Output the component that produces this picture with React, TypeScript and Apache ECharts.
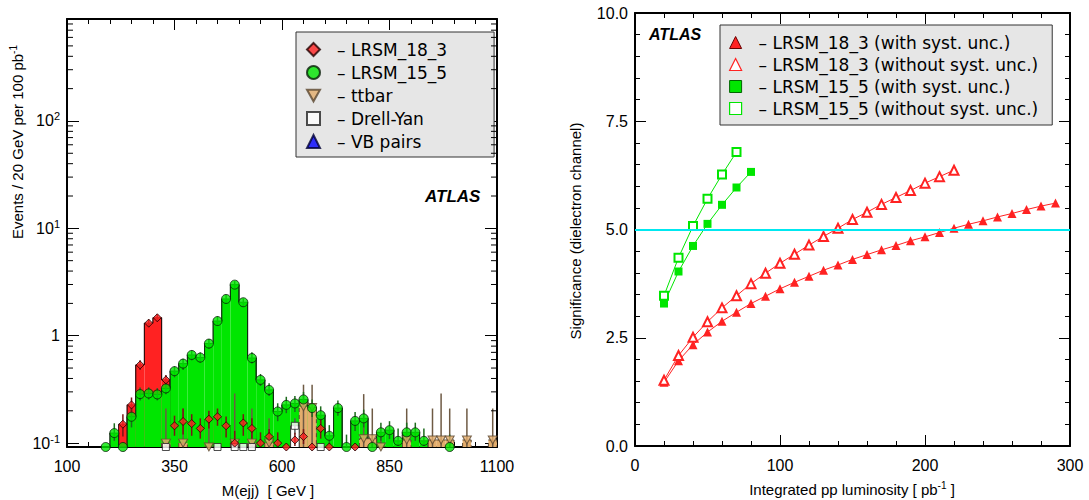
import React, { useEffect, useRef } from 'react';
import * as echarts from 'echarts';

const FONT = '"Liberation Sans", Arial, Helvetica, sans-serif';
const LEG_FONT = '"DejaVu Sans", "Liberation Sans", sans-serif';
const N = null;

// ---------------- Left panel: M(ejj) distributions (20 GeV bins) ----------------
const binWidth = 20;
const binCenters = [
  110, 130, 150, 170, 190, 210, 230, 250, 270, 290, 310, 330, 350, 370, 390, 410, 430, 450, 470, 490,
  510, 530, 550, 570, 590, 610, 630, 650, 670, 690, 710, 730, 750, 770, 790, 810, 830, 850, 870, 890,
  910, 930, 950, 970, 990, 1010, 1030, 1050, 1070, 1090,
];

const lrsm183 = [
  N, N, N, N, N, N, 0.15, 0.227, 0.535, 1.31, 1.47, 0.388, 0.145, 0.159, 0.152, 0.137, 0.167, 0.176, 0.145, 0.1,
  0.154, 0.137, 0.1, 0.115, 0.1, 0, 0.107, 0.115, 0, 0.137, 0, N, N, 0, N, N, N, N, N, N,
  N, N, N, N, N, N, N, N, N, N,
];
const lrsm183Lo = [
  N, N, N, N, N, N, 0.115, 0.19, 0.48, 1.2, 1.36, 0.35, 0.117, 0.12, 0.117, 0.11, 0.137, 0.145, 0.113, 0.094,
  0.117, 0.11, 0.094, 0.098, 0.094, N, 0.094, 0.098, N, 0.11, N, N, N, N, N, N, N, N, N, N,
  N, N, N, N, N, N, N, N, N, N,
];
const lrsm183Hi = [
  N, N, N, N, N, N, 0.186, 0.266, 0.59, 1.42, 1.58, 0.43, 0.18, 0.21, 0.186, 0.17, 0.2, 0.21, 0.177, 0.13,
  0.186, 0.17, 0.126, 0.135, 0.126, N, 0.125, 0.135, N, 0.17, N, N, N, N, N, N, N, N, N, N,
  N, N, N, N, N, N, N, N, N, N,
];

const lrsm155 = [
  N, N, N, N, 0, 0.124, 0, 0.176, 0.286, 0.29, 0.284, 0.323, 0.468, 0.55, 0.662, 0.626, 0.845, 1.37, 2.2, 2.99,
  2.05, 0.62, 0.388, 0.313, 0.197, 0.227, 0.234, 0.255, 0.212, 0.182, 0.117, 0.212, 0, 0.161, 0.17, 0, 0.126, 0.132, 0.105, 0.126,
  0.126, 0.105, N, N, 0, N, N, N, N, N,
];
const lrsm155Lo = [
  N, N, N, N, N, 0.105, N, 0.14, 0.25, 0.255, 0.25, 0.285, 0.41, 0.48, 0.59, 0.56, 0.76, 1.24, 2.0, 2.75,
  1.87, 0.55, 0.34, 0.275, 0.16, 0.19, 0.195, 0.215, 0.175, 0.148, 0.094, 0.18, 0, 0.13, 0.14, 0, 0.105, 0.109, 0.094, 0.105,
  0.105, 0.094, N, N, 0, N, N, N, N, N,
];
const lrsm155Hi = [
  N, N, N, N, N, 0.153, N, 0.215, 0.33, 0.33, 0.325, 0.37, 0.52, 0.61, 0.73, 0.7, 0.93, 1.52, 2.4, 3.22,
  2.22, 0.7, 0.44, 0.36, 0.235, 0.27, 0.275, 0.3, 0.255, 0.22, 0.147, 0.25, 0.12, 0.195, 0.205, 0.12, 0.155, 0.16, 0.137, 0.155,
  0.155, 0.137, N, N, 0.12, N, N, N, N, N,
];

const ttbar = [
  N, N, N, N, N, N, N, N, N, N, N, 0.1, N, 0.1, N, N, 0, N, N, 0.1,
  N, 0.1, N, 0.1, N, N, N, 0.218, 0.215, N, N, N, N, N, 0.11, 0.11, 0, N, N, 0.107,
  N, N, 0.107, 0.107, 0.107, N, 0.107, N, N, 0.107,
];
const ttbarLo = [
  N, N, N, N, N, N, N, N, N, N, N, 0, N, 0, N, N, 0, N, N, 0,
  N, 0, N, 0, N, N, N, 0, 0, N, N, N, N, N, 0, 0, 0, N, N, 0,
  N, N, 0, 0, 0, N, 0, N, N, 0,
];
const ttbarHi = [
  N, N, N, N, N, N, N, N, N, N, N, 0.21, N, 0.21, N, N, 0.18, N, N, 0.29,
  N, 0.21, N, 0.17, N, N, N, 0.35, 0.35, N, N, N, N, N, 0.286, 0.21, 0.12, N, N, 0.21,
  N, N, 0.21, 0.29, 0.21, N, 0.21, N, N, 0.21,
];

const drellYan = [
  N, N, N, N, N, N, N, N, N, N, N, 0, N, N, N, N, N, 0, N, 0,
  0, 0, N, N, N, N, 0.145, N, N, 0, N, N, N, N, N, N, N, N, N, N,
  N, N, N, N, N, N, N, N, N, N,
];
const drellYanLo = [
  N, N, N, N, N, N, N, N, N, N, N, N, N, N, N, N, N, N, N, N,
  N, N, N, N, N, N, 0.12, N, N, N, N, N, N, N, N, N, N, N, N, N,
  N, N, N, N, N, N, N, N, N, N,
];
const drellYanHi = [
  N, N, N, N, N, N, N, N, N, N, N, N, N, N, N, N, N, N, N, N,
  N, N, N, N, N, N, 0.17, N, N, N, N, N, N, N, N, N, N, N, N, N,
  N, N, N, N, N, N, N, N, N, N,
];

const vbPairs: (number | null)[] = [];

const massMin = 100;
const massMax = 1100;
const eventsMin = 0.092;
const eventsMax = 890;
const logMinorTicks = [
  0.2, 0.3, 0.4, 0.5, 0.6, 0.7, 0.8, 0.9,
  2, 3, 4, 5, 6, 7, 8, 9,
  20, 30, 40, 50, 60, 70, 80, 90,
  200, 300, 400, 500, 600, 700, 800,
];

// ---------------- Right panel: significance vs luminosity ----------------
const lumiRedSyst = [20, 30, 40, 50, 60, 70, 80, 90, 100, 110, 120, 130, 140, 150, 160, 170, 180, 190, 200, 210, 220, 230, 240, 250, 260, 270, 280, 290];
const sigRedSyst = [1.47, 1.97, 2.34, 2.63, 2.88, 3.09, 3.29, 3.46, 3.63, 3.78, 3.92, 4.06, 4.18, 4.31, 4.42, 4.53, 4.63, 4.74, 4.83, 4.93, 5.03, 5.12, 5.2, 5.29, 5.37, 5.46, 5.54, 5.61];
const lumiRedNoSyst = [20, 30, 40, 50, 60, 70, 80, 90, 100, 110, 120, 130, 140, 150, 160, 170, 180, 190, 200, 210, 220];
const sigRedNoSyst = [1.52, 2.09, 2.51, 2.87, 3.19, 3.47, 3.75, 3.99, 4.22, 4.43, 4.64, 4.84, 5.03, 5.23, 5.4, 5.58, 5.74, 5.9, 6.07, 6.22, 6.37];
const lumiGreenSyst = [20, 30, 40, 50, 60, 70, 80];
const sigGreenSyst = [3.29, 4.03, 4.62, 5.13, 5.57, 5.97, 6.33];
const lumiGreenNoSyst = [20, 30, 40, 50, 60, 70];
const sigGreenNoSyst = [3.47, 4.35, 5.08, 5.71, 6.27, 6.79];
const discoveryThreshold = 5;

const RED = '#ff2222';
const GREEN = '#00e600';
const TAN = '#e3ad6c';
const CYAN = '#00e8f0';

const clampLog = (v: number | null) => Math.max(v == null ? 0 : v, eventsMin);

function histData(vals: (number | null)[]) {
  const out: number[][] = [];
  vals.forEach((v, i) => {
    if (v == null) return;
    const prev = i > 0 ? vals[i - 1] : null;
    const next = i < vals.length - 1 ? vals[i + 1] : null;
    out.push([binCenters[i], clampLog(v), clampLog(prev), clampLog(next)]);
  });
  return out;
}

function histSeries(name: string, vals: (number | null)[], fill: string, stroke: string, dashed: boolean) {
  return {
    type: 'custom',
    name,
    xAxisIndex: 0,
    yAxisIndex: 0,
    z: 2,
    silent: true,
    clip: true,
    encode: { x: 0, y: 1 },
    data: histData(vals),
    renderItem: (_p: any, api: any) => {
      const c = api.value(0);
      const v = api.value(1);
      const tl = api.coord([c - binWidth / 2, v]);
      const tr = api.coord([c + binWidth / 2, v]);
      const base = api.coord([c, eventsMin])[1];
      const yPrev = api.coord([c, api.value(2)])[1];
      const yNext = api.coord([c, api.value(3)])[1];
      return {
        type: 'group',
        children: [
          {
            type: 'rect',
            shape: { x: tl[0], y: tl[1], width: tr[0] - tl[0], height: base - tl[1] },
            style: { fill, stroke: 'none' },
          },
          {
            type: 'polyline',
            shape: { points: [[tl[0], yPrev], [tl[0], tl[1]], [tr[0], tr[1]], [tr[0], yNext]] },
            style: { stroke, lineWidth: 1, fill: 'none', lineDash: dashed ? [4, 3] : null },
          },
        ],
      };
    },
  };
}

function errSeries(name: string, vals: (number | null)[], lo: (number | null)[], hi: (number | null)[], color: string) {
  const data: number[][] = [];
  vals.forEach((v, i) => {
    if (v == null || hi[i] == null) return;
    data.push([binCenters[i], clampLog(lo[i]), hi[i] as number]);
  });
  return {
    type: 'custom',
    name,
    xAxisIndex: 0,
    yAxisIndex: 0,
    z: 3,
    silent: true,
    encode: { x: 0, y: [1, 2] },
    data,
    renderItem: (_p: any, api: any) => {
      const a = api.coord([api.value(0), api.value(1)]);
      const b = api.coord([api.value(0), api.value(2)]);
      return {
        type: 'line',
        shape: { x1: a[0], y1: a[1], x2: b[0], y2: b[1] },
        style: { stroke: color, lineWidth: 1.5 },
      };
    },
  };
}

function markerData(vals: (number | null)[]) {
  const out: number[][] = [];
  vals.forEach((v, i) => {
    if (v == null) return;
    out.push([binCenters[i], clampLog(v)]);
  });
  return out;
}

const DOWN_TRI = 'path://M0,0L10,0L5,9Z';

function logLabel(v: number) {
  const e = Math.round(Math.log10(v));
  if (e === 0) return '{b|1}';
  return '{b|10}{s|' + e + '}';
}

const tickLabelRich = {
  b: { fontFamily: FONT, fontSize: 16, color: '#000' },
  s: { fontFamily: FONT, fontSize: 11, color: '#000', padding: [0, 0, 9, 0] },
};

const frameLine = { show: true, onZero: false, lineStyle: { color: '#000', width: 2 } };

function linAxis(gridIndex: number, position: string, min: number, max: number, interval: number, labels: boolean, fmt?: (v: number) => string) {
  return {
    gridIndex,
    type: 'value',
    position,
    min,
    max,
    interval,
    axisLine: frameLine,
    axisTick: { show: true, inside: true, length: 11, lineStyle: { color: '#000', width: 1 } },
    minorTick: { show: true, splitNumber: 5, length: 5, lineStyle: { color: '#000', width: 1 } },
    axisLabel: labels
      ? { show: true, fontFamily: FONT, fontSize: 16, color: '#000', margin: position === 'bottom' ? 11 : 7, formatter: fmt || ((v: number) => String(v)) }
      : { show: false },
    splitLine: { show: false },
    minorSplitLine: { show: false },
  };
}

function logAxis(position: string, labels: boolean) {
  return {
    gridIndex: 0,
    type: 'log',
    logBase: 10,
    position,
    min: eventsMin,
    max: eventsMax,
    axisLine: frameLine,
    axisTick: { show: true, inside: true, length: 12, lineStyle: { color: '#000', width: 1 } },
    axisLabel: labels
      ? { show: true, showMinLabel: false, showMaxLabel: false, margin: 7, formatter: logLabel, rich: tickLabelRich }
      : { show: false },
    splitLine: { show: false },
  };
}

export default function App() {
  const ref = useRef<HTMLDivElement>(null);

  useEffect(() => {
    document.body.style.margin = '0';
    if (!ref.current) return;
    const chart = echarts.init(ref.current, undefined, { renderer: 'svg' });

    const option: any = {
      animation: false,
      backgroundColor: '#fff',
      grid: [
        { left: 67, top: 19, width: 430, height: 428 },
        { left: 635, top: 13, width: 435, height: 433 },
      ],
      xAxis: [
        linAxis(0, 'bottom', massMin, massMax, 250, true),
        linAxis(0, 'top', massMin, massMax, 250, false),
        linAxis(1, 'bottom', 0, 300, 100, true),
        linAxis(1, 'top', 0, 300, 100, false),
      ],
      yAxis: [
        logAxis('left', true),
        logAxis('right', false),
        linAxis(1, 'left', 0, 10, 2.5, true, (v: number) => v.toFixed(1)),
        linAxis(1, 'right', 0, 10, 2.5, false),
      ],
      legend: [
        {
          left: 296,
          top: 32,
          orient: 'vertical',
          align: 'left',
          selectedMode: false,
          backgroundColor: '#e6e6e6',
          borderColor: '#333',
          borderWidth: 1,
          padding: [9, 47, 7, 10],
          itemWidth: 13,
          itemHeight: 13,
          itemGap: 6,
          formatter: '– {name}',
          textStyle: { fontFamily: LEG_FONT, fontSize: 17, color: '#000', padding: [0, 0, 0, 12] },
          data: [
            { name: 'LRSM_18_3', icon: 'diamond' },
            { name: 'LRSM_15_5', icon: 'circle' },
            { name: 'ttbar', icon: DOWN_TRI },
            { name: 'Drell-Yan', icon: 'rect' },
            { name: 'VB pairs', icon: 'triangle' },
          ],
        },
        {
          left: 720,
          top: 25,
          orient: 'vertical',
          align: 'left',
          selectedMode: false,
          backgroundColor: '#e6e6e6',
          borderColor: '#333',
          borderWidth: 1,
          padding: [9, 14, 8, 9],
          itemWidth: 12,
          itemHeight: 12,
          itemGap: 5,
          formatter: '– {name}',
          textStyle: { fontFamily: LEG_FONT, fontSize: 17, color: '#000', padding: [0, 0, 0, 12] },
          data: [
            { name: 'LRSM_18_3 (with syst. unc.)', icon: 'triangle', itemStyle: { color: RED, borderColor: '#600', borderWidth: 1 } },
            { name: 'LRSM_18_3 (without syst. unc.)', icon: 'triangle', itemStyle: { color: '#fff', borderColor: RED, borderWidth: 1.2 } },
            { name: 'LRSM_15_5 (with syst. unc.)', icon: 'rect', itemStyle: { color: GREEN, borderColor: '#060', borderWidth: 1 } },
            { name: 'LRSM_15_5 (without syst. unc.)', icon: 'rect', itemStyle: { color: '#fff', borderColor: GREEN, borderWidth: 1.2 } },
          ],
        },
      ],
      graphic: [
        {
          type: 'text',
          left: 425,
          top: 188,
          style: { text: 'ATLAS', font: 'italic bold 17px "Liberation Sans", Arial, sans-serif', fill: '#000' },
        },
        {
          type: 'text',
          left: 649,
          top: 26,
          style: { text: 'ATLAS', font: 'italic bold 16px "Liberation Sans", Arial, sans-serif', fill: '#000' },
        },
        {
          type: 'text',
          x: 17,
          y: 142,
          rotation: Math.PI / 2,
          style: {
            text: '{a|Events / 20 GeV per 100 pb}{s|-1}',
            align: 'center',
            verticalAlign: 'middle',
            textAlign: 'center',
            textVerticalAlign: 'middle',
            rich: {
              a: { fontFamily: FONT, fontSize: 15, fill: '#000' },
              s: { fontFamily: FONT, fontSize: 10, fill: '#000', padding: [0, 0, 8, 0] },
            },
          },
        },
        {
          type: 'text',
          x: 268,
          y: 490,
          style: {
            text: 'M(ejj)  [ GeV ]',
            font: '15px "Liberation Sans", Arial, sans-serif',
            fill: '#000',
            align: 'center',
            verticalAlign: 'middle',
            textAlign: 'center',
            textVerticalAlign: 'middle',
          },
        },
        {
          type: 'text',
          x: 575,
          y: 231,
          rotation: Math.PI / 2,
          style: {
            text: 'Significance (dielectron channel)',
            font: '15px "Liberation Sans", Arial, sans-serif',
            fill: '#000',
            align: 'center',
            verticalAlign: 'middle',
            textAlign: 'center',
            textVerticalAlign: 'middle',
          },
        },
        {
          type: 'text',
          x: 852,
          y: 489,
          style: {
            text: '{a|Integrated pp luminosity [ pb}{s|-1}{a| ]}',
            align: 'center',
            verticalAlign: 'middle',
            textAlign: 'center',
            textVerticalAlign: 'middle',
            rich: {
              a: { fontFamily: FONT, fontSize: 15, fill: '#000' },
              s: { fontFamily: FONT, fontSize: 10, fill: '#000', padding: [0, 0, 8, 0] },
            },
          },
        },
      ],
      series: [
        // histogram fills (overlaid, not stacked)
        histSeries('hist LRSM_18_3', lrsm183, RED, '#2a0a0a', false),
        histSeries('hist LRSM_15_5', lrsm155, GREEN, '#0f2a0f', false),
        histSeries('hist ttbar', ttbar, TAN, '#5a4630', true),
        histSeries('hist Drell-Yan', drellYan, '#ffffff', '#333333', false),
        // error bars
        errSeries('err ttbar', ttbar, ttbarLo, ttbarHi, '#6e5a44'),
        errSeries('err Drell-Yan', drellYan, drellYanLo, drellYanHi, '#555555'),
        errSeries('err LRSM_15_5', lrsm155, lrsm155Lo, lrsm155Hi, '#1d6b1d'),
        errSeries('err LRSM_18_3', lrsm183, lrsm183Lo, lrsm183Hi, '#7a1515'),
        // minor log ticks on both vertical frame lines
        {
          type: 'custom',
          name: 'minor log ticks',
          xAxisIndex: 0,
          yAxisIndex: 0,
          silent: true,
          z: 5,
          encode: { x: 0, y: 1 },
          data: logMinorTicks.map((t) => [massMin, t]),
          renderItem: (_p: any, api: any) => {
            const l = api.coord([massMin, api.value(1)]);
            const r = api.coord([massMax, api.value(1)]);
            return {
              type: 'group',
              children: [
                { type: 'line', shape: { x1: l[0], y1: l[1], x2: l[0] + 6, y2: l[1] }, style: { stroke: '#000', lineWidth: 1 } },
                { type: 'line', shape: { x1: r[0] - 6, y1: r[1], x2: r[0], y2: r[1] }, style: { stroke: '#000', lineWidth: 1 } },
              ],
            };
          },
        },
        // markers
        {
          type: 'scatter', name: 'ttbar', xAxisIndex: 0, yAxisIndex: 0, z: 4, clip: false,
          symbol: DOWN_TRI, symbolSize: [9, 8],
          itemStyle: { color: TAN, borderColor: '#5a4630', borderWidth: 1 },
          data: markerData(ttbar),
        },
        {
          type: 'scatter', name: 'Drell-Yan', xAxisIndex: 0, yAxisIndex: 0, z: 4, clip: false,
          symbol: 'rect', symbolSize: 7,
          itemStyle: { color: '#ffffff', borderColor: '#222', borderWidth: 1 },
          data: markerData(drellYan),
        },
        {
          type: 'scatter', name: 'LRSM_15_5', xAxisIndex: 0, yAxisIndex: 0, z: 4, clip: false,
          symbol: 'circle', symbolSize: 9,
          itemStyle: { color: GREEN, borderColor: '#0a1f0a', borderWidth: 1 },
          data: markerData(lrsm155),
        },
        {
          type: 'scatter', name: 'LRSM_18_3', xAxisIndex: 0, yAxisIndex: 0, z: 4, clip: false,
          symbol: 'diamond', symbolSize: 8,
          itemStyle: { color: RED, borderColor: '#200', borderWidth: 1 },
          data: markerData(lrsm183),
        },
        {
          type: 'scatter', name: 'VB pairs', xAxisIndex: 0, yAxisIndex: 0, z: 4, clip: false,
          symbol: 'triangle', symbolSize: 9,
          itemStyle: { color: '#0000ff', borderColor: '#000033', borderWidth: 1 },
          data: markerData(vbPairs),
        },
        // right panel
        {
          type: 'line', name: 'LRSM_18_3 (with syst. unc.)', xAxisIndex: 2, yAxisIndex: 2, z: 3,
          symbol: 'triangle', symbolSize: 9,
          lineStyle: { color: RED, width: 1 },
          itemStyle: { color: RED },
          data: lumiRedSyst.map((x, i) => [x, sigRedSyst[i]]),
          markLine: {
            silent: true,
            symbol: ['none', 'none'],
            label: { show: false },
            lineStyle: { color: CYAN, width: 2, type: 'solid' },
            data: [{ yAxis: discoveryThreshold }],
          },
        },
        {
          type: 'line', name: 'LRSM_18_3 (without syst. unc.)', xAxisIndex: 2, yAxisIndex: 2, z: 3,
          symbol: 'emptyTriangle', symbolSize: 9,
          lineStyle: { color: RED, width: 1 },
          itemStyle: { color: RED, borderWidth: 1 },
          data: lumiRedNoSyst.map((x, i) => [x, sigRedNoSyst[i]]),
        },
        {
          type: 'line', name: 'LRSM_15_5 (with syst. unc.)', xAxisIndex: 2, yAxisIndex: 2, z: 3,
          symbol: 'rect', symbolSize: 8,
          lineStyle: { color: GREEN, width: 1 },
          itemStyle: { color: GREEN },
          data: lumiGreenSyst.map((x, i) => [x, sigGreenSyst[i]]),
        },
        {
          type: 'line', name: 'LRSM_15_5 (without syst. unc.)', xAxisIndex: 2, yAxisIndex: 2, z: 3,
          symbol: 'emptyRect', symbolSize: 8,
          lineStyle: { color: GREEN, width: 1 },
          itemStyle: { color: GREEN, borderWidth: 1 },
          data: lumiGreenNoSyst.map((x, i) => [x, sigGreenNoSyst[i]]),
        },
      ],
    };

    chart.setOption(option);
    return () => {
      chart.dispose();
    };
  }, []);

  return <div ref={ref} style={{ width: 1089, height: 500 }} />;
}
